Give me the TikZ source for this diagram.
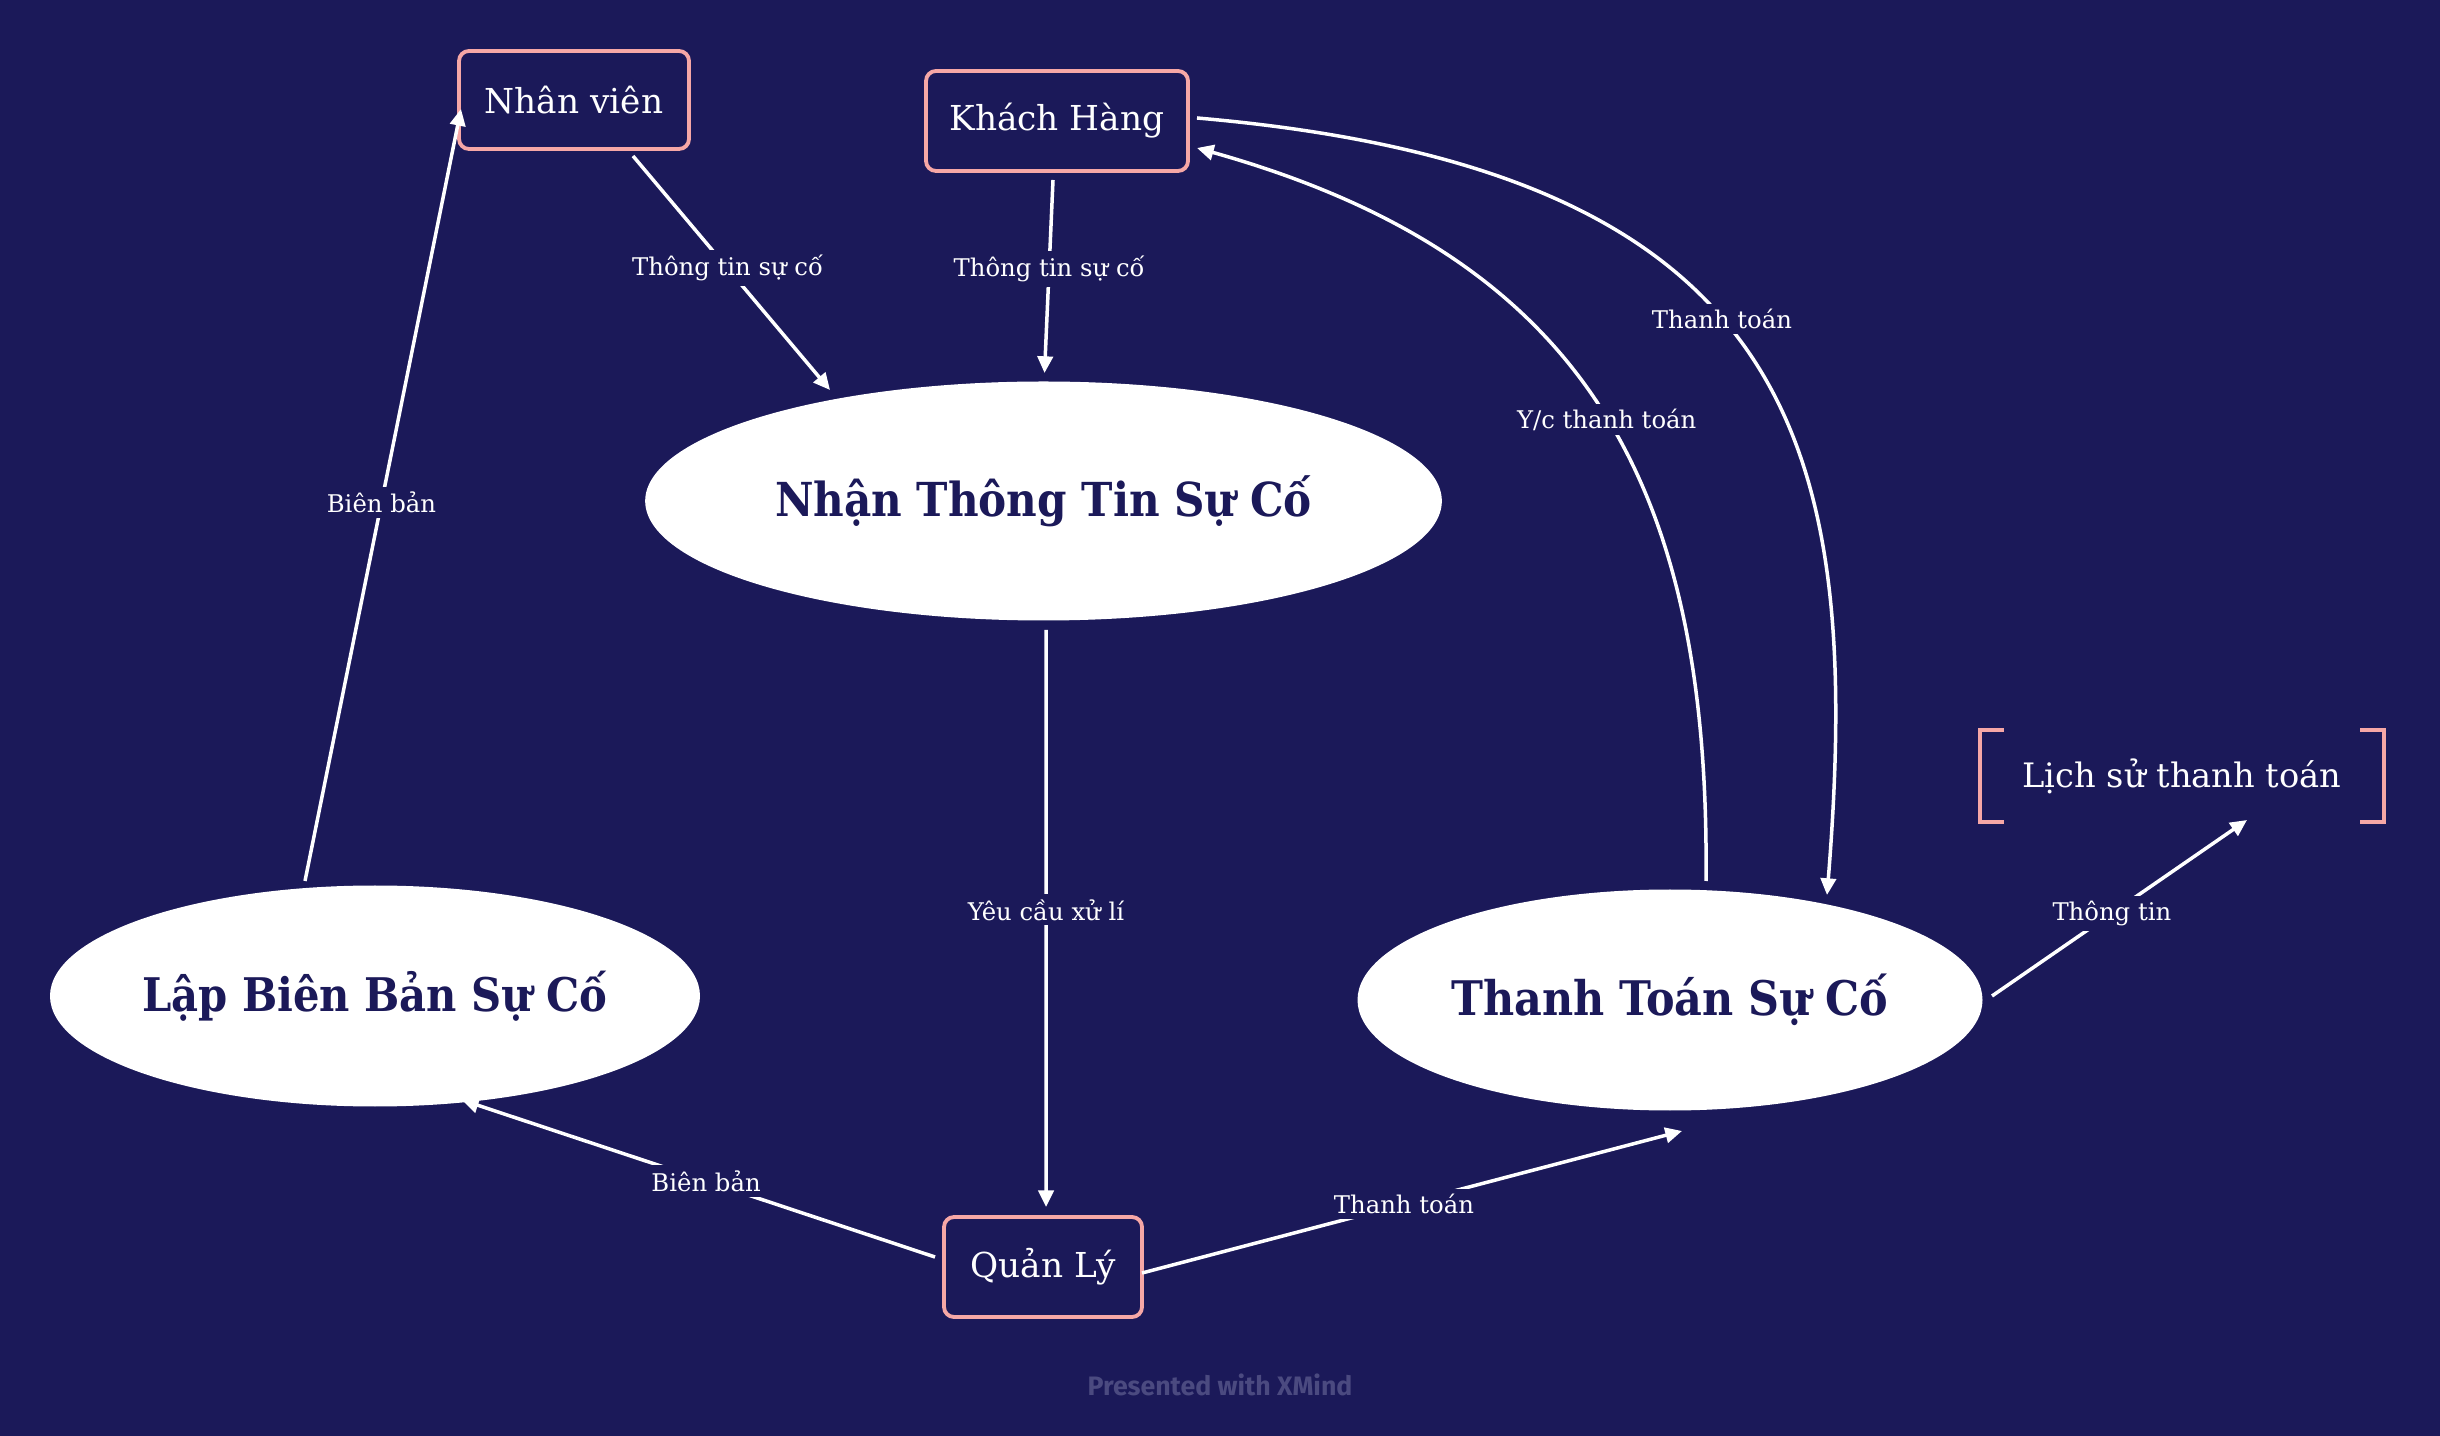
\documentclass[tikz,border=0pt]{standalone}
\usepackage{fontspec}
\setmainfont{DejaVu Serif}
\newfontfamily\condfont{DejaVu Serif Condensed}
\newfontfamily\xmfont{Fira Sans}
\usetikzlibrary{arrows.meta,shapes.geometric,calc}
\definecolor{bg}{HTML}{1B1959}
\definecolor{pinkb}{HTML}{F6A7A6}
\definecolor{xmgray}{HTML}{4B4A80}
\newcommand{\ztext}[1]{\makebox[0pt][c]{#1}}
\begin{document}
\begin{tikzpicture}[x=0.3pt,y=-0.3pt,
  box/.style={draw=pinkb, line width=1.15pt, rounded corners=3pt, fill=bg, text=white,
    font=\fontsize{10.3}{12}\selectfont, inner sep=0pt},
  proc/.style={ellipse, fill=white, text=bg, inner sep=0pt,
    font=\condfont\bfseries\fontsize{13.9}{16}\selectfont},
  lbl/.style={fill=bg, text=white, inner sep=1.5pt, font=\fontsize{7.3}{9}\selectfont},
  flow/.style={white, line width=1.05pt, -{Triangle[length=5pt,width=4.6pt]}},
  brk/.style={draw=pinkb, line width=1.15pt},
]
\fill[bg] (0,0) rectangle (2440,1436);
\useasboundingbox (0,0) rectangle (2440,1436);

% nodes
\node[box, minimum width=69pt, minimum height=29.4pt] (nv) at (574,100) {Nhân viên};
\node[box, minimum width=78.6pt, minimum height=30pt] (kh) at (1057,121) {Khách Hàng};
\node[box, minimum width=59.4pt, minimum height=30pt] (ql) at (1043,1267) {Quản Lý};
\node[proc, minimum width=239pt, minimum height=71.7pt, font=\condfont\bfseries\fontsize{14.05}{16}\selectfont] (nh) at (1043.5,501) {\ztext{Nhận Thông Tin Sự Cố}};
\node[proc, minimum width=195pt, minimum height=66.3pt] (lb) at (375,996) {\ztext{Lập Biên Bản Sự Cố}};
\node[proc, minimum width=187.5pt, minimum height=66.3pt, font=\condfont\bfseries\fontsize{14.3}{16}\selectfont] (tt) at (1670,1000) {\ztext{Thanh Toán Sự Cố}};
\node[text=white, font=\fontsize{10.1}{12}\selectfont, minimum width=120.6pt, minimum height=27pt, inner sep=0pt] (ls) at (2182,776) {Lịch sử thanh toán};
\draw[brk] ([xshift=7pt]ls.north west) -- (ls.north west) -- (ls.south west) -- ([xshift=7pt]ls.south west);
\draw[brk] ([xshift=-7pt]ls.north east) -- (ls.north east) -- (ls.south east) -- ([xshift=-7pt]ls.south east);
\node[text=xmgray, font=\xmfont\bfseries\fontsize{8}{9}\selectfont] (xm) at (1220,1385) {Presented with XMind};

% connectors
\draw[flow] ($(nv.center)+(59,56)$) -- node[lbl, pos=0.48] {Thông tin sự cố} ($(nh.center)+(-213.5,-111)$);
\draw[flow] ($(kh.center)+(-4,59)$) -- node[lbl, pos=0.46] {Thông tin sự cố} ($(nh.center)+(1,-128)$);
\draw[flow] ($(nh.center)+(2.5,129)$) -- node[lbl, pos=0.485] {Yêu cầu xử lí} ($(ql.center)+(3,-60)$);
\draw[flow] ($(ql.center)+(-108,-10)$) -- node[lbl, pos=0.484] {Biên bản} ($(lb.center)+(87,104)$);
\draw[flow] ($(ql.center)+(99,6)$) -- node[lbl, pos=0.485] {Thanh toán} ($(tt.center)+(12,131)$);
\draw[flow] ($(lb.center)+(-70,-115)$) -- node[lbl, pos=0.49] {Biên bản} ($(nv.center)+(-113,9)$);
\draw[flow] ($(kh.center)+(140,-3)$) .. controls (1797,170) and (1863,445) .. node[lbl, pos=0.45] {Thanh toán} ($(tt.center)+(157,-105)$);
\draw[flow] ($(tt.center)+(36,-119)$) .. controls (1710,481) and (1582,256) .. node[lbl, pos=0.48] {Y/c thanh toán} ($(kh.center)+(140,27)$);
\draw[flow] ($(tt.center)+(322,-4)$) -- node[lbl, pos=0.47] {Thông tin} ($(ls.center)+(65,44)$);
\end{tikzpicture}
\end{document}
